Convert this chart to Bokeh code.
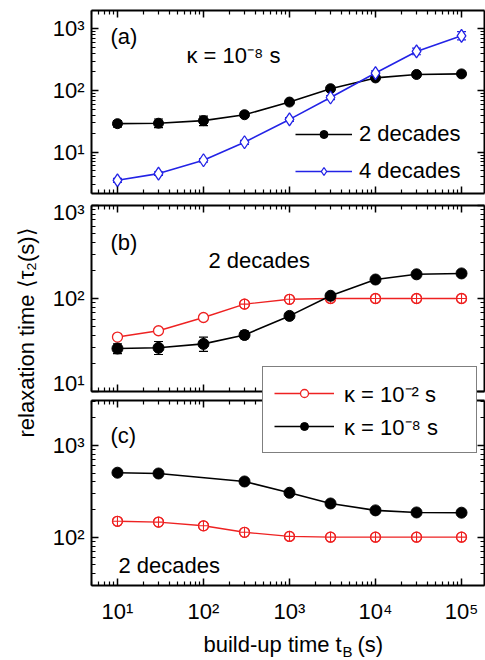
import math
from bokeh.plotting import figure
from bokeh.layouts import column
from bokeh.models import (ColumnDataSource, Whisker, TeeHead, Legend, LegendItem, Label,
                          FixedTicker, LogAxis, CustomJSTickFormatter, Range1d, CDSView, IndexFilter)
from bokeh.embed import file_html
from bokeh.resources import INLINE

# ---------------- data ----------------
t_build = [10, 30, 100, 300, 1000, 3000, 10000, 30000, 100000]

# kappa = 1e-8 s, 2 decades  (panels a and b)
tau_k8_2dec = [29, 29.5, 32.5, 40.5, 65, 107, 160, 182, 186]
tau_k8_2dec_lo = [25.5, 25, 27, 37, 61.5, 102, 153, 174, 178]
tau_k8_2dec_hi = [32.5, 34.5, 38.5, 44.5, 68.5, 112, 167, 190, 194]

# kappa = 1e-8 s, 4 decades  (panel a)
tau_k8_4dec = [3.5, 4.5, 7.4, 14.5, 34, 77, 192, 430, 770]
tau_k8_4dec_lo = [3.25, 4.2, 6.9, 13.4, 31.5, 71, 176, 380, 660]
tau_k8_4dec_hi = [3.75, 4.8, 7.9, 15.6, 36.5, 83, 208, 485, 900]

# kappa = 1e-2 s, 2 decades  (panel b)
tau_k2_2dec = [38.5, 45, 62.5, 87, 98, 100, 100, 100, 100]

# panel c
t_build_c_k8 = [10, 30, 300, 1000, 3000, 10000, 30000, 100000]
tau_c_k8 = [505, 495, 405, 305, 233, 196, 186, 185]
tau_c_k2 = [149, 146, 133, 113, 102, 100, 100, 100, 100]

y_decades = [1, 10, 100, 1000, 10000]
x_decades = [1, 10, 100, 1000, 10000, 100000, 1000000]
mantissas = [2, 3, 4, 5, 6, 7, 8, 9]

x_label = "build-up time t"
x_label_sub = "B"
x_label_unit = "(s)"
y_label = "relaxation time \u27e8\u03c4\u2082(s)\u27e9"

# ---------------- style / geometry ----------------
FONT = "Liberation Sans"
FS = "22px"
BLACK = "#000000"
BLUE = "#2323e6"
RED = "#ee2222"

W = 485
PAGE_H = 660
LEFT, RIGHT = 91, 1                     # borders left / right of every frame
FRAME_W = W - LEFT - RIGHT
X_LO, X_HI = 4.99, 1.85e5
A_Y = (2.14, 1982)
B_Y = (10, 1000)
C_Y = (29.7, 3097)
A_H, A_TOP, A_BOT = 199, 10, 6
B_H, B_TOP, B_BOT = 196, 6, 4
C_TOP, C_BOT = 5, 75
C_H = PAGE_H - A_H - B_H

SUP = r"""
const s = {"0":"\u2070","1":"\u00b9","2":"\u00b2","3":"\u00b3","4":"\u2074","5":"\u2075",
           "6":"\u2076","7":"\u2077","8":"\u2078","9":"\u2079","-":"\u207b"};
const e = String(Math.round(Math.log10(tick)));
let out = "10";
for (const c of e) out += s[c];
return out;
"""

def minors(decs):
    return [m * d for d in decs for m in mantissas]

def style_axis(ax, decs, show_labels, standoff=6):
    ax.ticker = FixedTicker(ticks=decs, minor_ticks=minors(decs))
    ax.axis_line_width = 2
    ax.axis_line_color = BLACK
    ax.major_tick_in = 7
    ax.major_tick_out = 0
    ax.minor_tick_in = 4
    ax.minor_tick_out = 0
    ax.major_tick_line_width = 1.5
    ax.minor_tick_line_width = 1.2
    ax.major_tick_line_color = BLACK
    ax.minor_tick_line_color = BLACK
    if show_labels:
        ax.formatter = CustomJSTickFormatter(code=SUP)
        ax.major_label_text_font = FONT
        ax.major_label_text_font_size = FS
        ax.major_label_text_color = BLACK
        ax.major_label_standoff = standoff
    else:
        ax.formatter = CustomJSTickFormatter(code="return '';")
        ax.major_label_text_font_size = "0px"
        ax.major_label_standoff = 0


def make_panel(yr, height, btop, bbot, xlabels=False):
    p = figure(width=W, height=height, x_axis_type="log", y_axis_type="log",
               x_range=Range1d(X_LO, X_HI), y_range=Range1d(*yr),
               output_backend="svg", toolbar_location=None,
               min_border_left=LEFT, min_border_right=RIGHT,
               min_border_top=btop, min_border_bottom=bbot)
    p.outline_line_color = None
    p.grid.visible = False
    p.border_fill_color = None
    p.add_layout(LogAxis(), "right")
    p.add_layout(LogAxis(), "above")
    style_axis(p.left[0], y_decades, True, 7)
    style_axis(p.right[0], y_decades, False)
    style_axis(p.below[0], x_decades, xlabels, 13)
    style_axis(p.above[0], x_decades, False)
    return p


def text(p, x, y, s, size=FS, **kw):
    p.add_layout(Label(x=x, y=y, x_units="screen", y_units="screen", text=s,
                       text_font=FONT, text_font_size=size, text_color=BLACK,
                       text_baseline=kw.pop("baseline", "alphabetic"),
                       text_align=kw.pop("align", "left"), **kw))


def whisk(p, x, lo, hi, color):
    src = ColumnDataSource(dict(x=x, lo=lo, hi=hi))
    p.add_layout(Whisker(source=src, base="x", lower="lo", upper="hi", dimension="height",
                         line_color=color, line_width=1.2,
                         upper_head=TeeHead(size=9, line_color=color, line_width=1.2),
                         lower_head=TeeHead(size=9, line_color=color, line_width=1.2)))

# ---------------- panel (a) ----------------
pa = make_panel(A_Y, A_H, A_TOP, A_BOT)
la_k = pa.line(t_build, tau_k8_2dec, line_color=BLACK, line_width=1.6)
sa_k = pa.scatter(t_build, tau_k8_2dec, marker="circle", size=10, fill_color=BLACK, line_color=BLACK)
whisk(pa, t_build, tau_k8_2dec_lo, tau_k8_2dec_hi, BLACK)
la_b = pa.line(t_build, tau_k8_4dec, line_color=BLUE, line_width=1.6)
sa_b = pa.scatter(t_build, tau_k8_4dec, marker="diamond", size=13, fill_color="white",
                  line_color=BLUE, line_width=1.3)
whisk(pa, t_build, tau_k8_4dec_lo, tau_k8_4dec_hi, BLUE)
text(pa, 19, 157, "(a)")
text(pa, 95, 138, "\u03ba = 10\u207b\u2078 s")
leg_a = Legend(items=[LegendItem(label="2 decades", renderers=[la_k, sa_k]),
                      LegendItem(label="4 decades", renderers=[la_b, sa_b])],
               location=(204, 9), padding=0, spacing=11, margin=0,
               glyph_width=57, glyph_height=20, label_standoff=7,
               label_text_font=FONT, label_text_font_size=FS, label_text_color=BLACK,
               border_line_color=None, background_fill_alpha=0)
pa.add_layout(leg_a)

# ---------------- panel (b) ----------------
pb = make_panel(B_Y, B_H, B_TOP, B_BOT)
pb.line(t_build, tau_k2_2dec, line_color=RED, line_width=1.4)
pb.scatter(t_build, tau_k2_2dec, marker="circle", size=10, fill_color="white",
           line_color=RED, line_width=1.3)
pb.scatter(t_build, tau_k2_2dec, marker="circle_cross", size=10, fill_alpha=0,
           line_color=RED, line_width=1.1, view=CDSView(filter=IndexFilter([3, 4, 5, 6, 7, 8])))
pb.line(t_build, tau_k8_2dec, line_color=BLACK, line_width=1.6)
pb.scatter(t_build, tau_k8_2dec, marker="circle", size=11, fill_color=BLACK, line_color=BLACK)
whisk(pb, t_build, tau_k8_2dec_lo, tau_k8_2dec_hi, BLACK)
text(pb, 19, 149, "(b)")
text(pb, 117, 131, "2 decades")

# ---------------- panel (c): frame and axes ----------------
pc = make_panel(C_Y, C_H, C_TOP, C_BOT, xlabels=True)
text(pc, 19, 150, "(c)")
text(pc, 27, 20, "2 decades")

# ---------------- overlay over the whole page (data of c, legend, titles) ----------------
c_frame_top = A_H + B_H + C_TOP
c_frame_bot = PAGE_H - C_BOT
dpy = (math.log10(C_Y[1]) - math.log10(C_Y[0])) / (c_frame_bot - c_frame_top)
dpx = (math.log10(X_HI) - math.log10(X_LO)) / FRAME_W
o_x = (10 ** (math.log10(X_LO) - LEFT * dpx), 10 ** (math.log10(X_HI) + RIGHT * dpx))
o_y = (10 ** (math.log10(C_Y[0]) - (PAGE_H - c_frame_bot) * dpy),
       10 ** (math.log10(C_Y[1]) + c_frame_top * dpy))

po = figure(width=W, height=PAGE_H, x_axis_type="log", y_axis_type="log",
            x_range=Range1d(*o_x), y_range=Range1d(*o_y),
            x_axis_location=None, y_axis_location=None,
            output_backend="svg", toolbar_location=None,
            min_border=0, min_border_left=0, min_border_right=0,
            min_border_top=0, min_border_bottom=0)
po.outline_line_color = None
po.grid.visible = False
po.border_fill_color = None
po.background_fill_color = None
po.margin = (-PAGE_H, 0, 0, 0)

lc_k = po.line(t_build_c_k8, tau_c_k8, line_color=BLACK, line_width=1.6)
sc_k = po.scatter(t_build_c_k8, tau_c_k8, marker="circle", size=11, fill_color=BLACK, line_color=BLACK)
lc_r = po.line(t_build, tau_c_k2, line_color=RED, line_width=1.4)
sc_r = po.scatter(t_build, tau_c_k2, marker="circle", size=10, fill_color="white",
                  line_color=RED, line_width=1.3)
po.scatter(t_build, tau_c_k2, marker="circle_cross", size=10, fill_alpha=0,
           line_color=RED, line_width=1.1)

leg_c = Legend(items=[LegendItem(label="\u03ba = 10\u207b\u00b2 s", renderers=[lc_r, sc_r]),
                      LegendItem(label="\u03ba = 10\u207b\u2078 s", renderers=[lc_k, sc_k])],
               location=(262, PAGE_H - 453), padding=11, spacing=3, margin=0,
               glyph_width=60, glyph_height=20, label_standoff=10, label_width=121,
               label_text_font=FONT, label_text_font_size=FS, label_text_color=BLACK,
               border_line_color=BLACK, border_line_width=1.5,
               background_fill_color="white", background_fill_alpha=1)
po.add_layout(leg_c)

# axis titles (page coordinates, measured from the bottom of the page)
text(po, 26, PAGE_H - 332, y_label, size="22px", angle=math.pi / 2, align="center", baseline="middle")
text(po, 203, PAGE_H - 644, x_label)
text(po, 342, PAGE_H - 651, x_label_sub, size="15px")
text(po, 357, PAGE_H - 644, x_label_unit)

layout = column(pa, pb, pc, spacing=0)
open("out.html", "w").write(file_html([layout, po], INLINE))
